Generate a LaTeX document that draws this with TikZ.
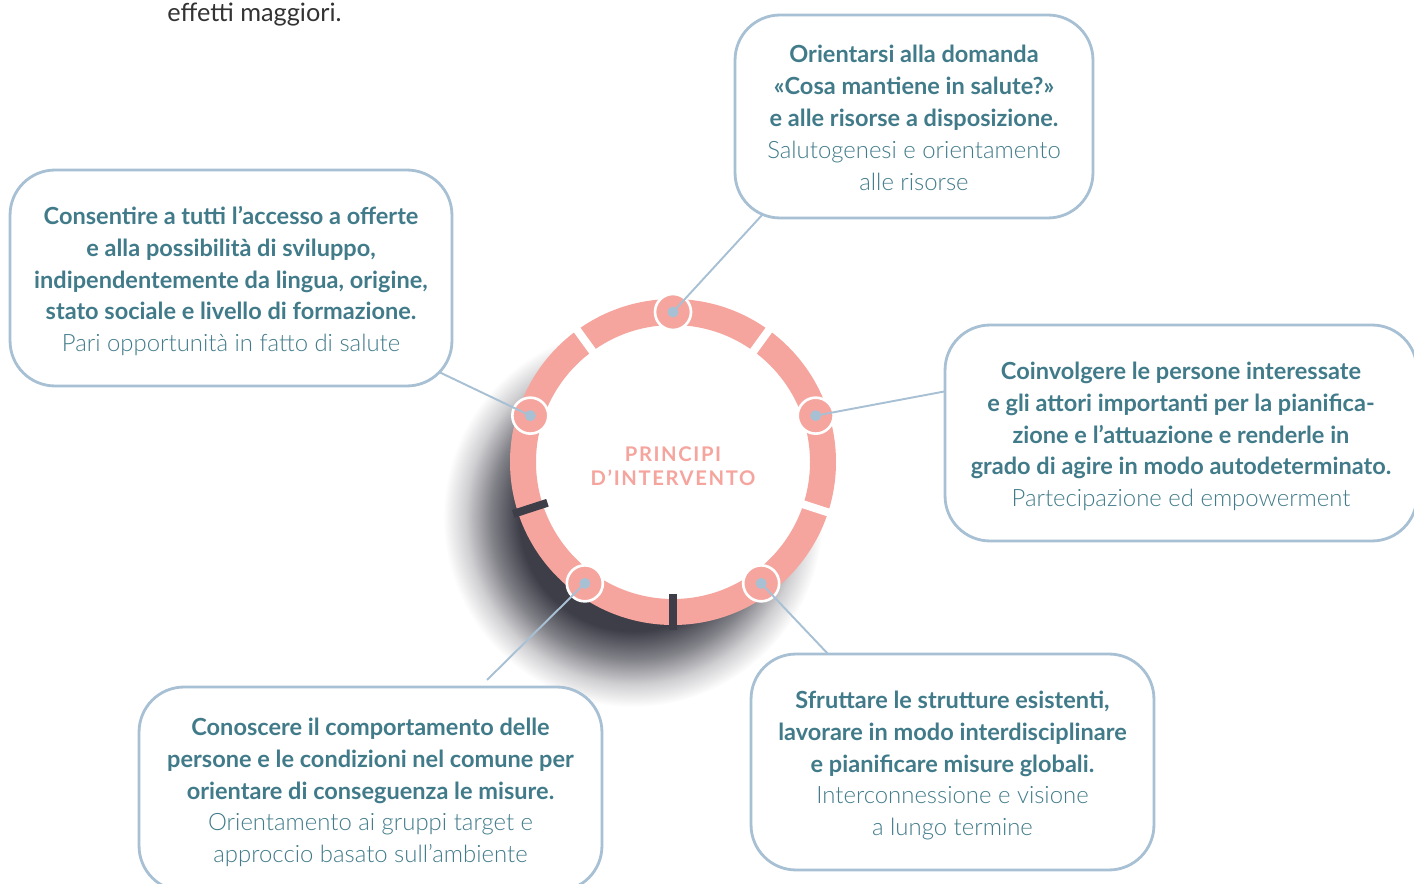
\documentclass[tikz,border=0pt]{standalone}
\usepackage{fontspec}
\setmainfont{Lato}
\newfontfamily\lightfont{Lato Light}
\newfontfamily\capsfont[LetterSpace=8]{Lato}
\usetikzlibrary{positioning}

\definecolor{anello}{HTML}{F5A59E}
\definecolor{testo}{HTML}{417B8A}
\definecolor{bordo}{HTML}{A8C0D4}
\definecolor{ombra}{HTML}{3E3E49}
\definecolor{scuro}{HTML}{333333}

\pgfdeclareradialshading{ombraanello}{\pgfpoint{0bp}{0bp}}{color(0bp)=(ombra); color(15bp)=(ombra); color(18.75bp)=(ombra!65!white); color(22bp)=(ombra!25!white); color(25bp)=(white); color(50bp)=(white)}

\tikzset{
	riquadro/.style={draw=bordo, line width=1.6pt, rounded corners=0.9cm, fill=white, align=center, text=testo, inner sep=0pt, minimum height=4.32cm, text height=87pt, text depth=3pt, font=\fontsize{13.4}{18.14}\selectfont\bfseries},
	punto/.style={circle, fill=anello, draw=white, line width=1.5pt, minimum size=0.72cm, inner sep=0pt},
	collega/.style={draw=bordo, line width=1.1pt},
	taglio/.style={line width=0.16cm, white}
}
\newcommand{\sott}[1]{{\lightfont\mdseries\fontsize{13.6}{18.14}\selectfont #1}}

\begin{document}
\begin{tikzpicture}[x=0.02cm, y=-0.02cm]
	\path[use as bounding box] (0,0) rectangle (1414,884);

	% Testo sopra
	\node[anchor=base west, inner sep=0pt, text=scuro, font=\fontsize{14.4}{17}\selectfont] (effetti) at (167,22) {effetti maggiori.};

	% Anello
	\begin{scope}[shift={(673,462)}, yscale=-1]
	\shade[shading=ombraanello] (-40,-55) circle (190);
	\fill[white] (0,0) circle (140);
	\draw[anello, line width=0.52cm] (0,0) circle (150);

	% Tagli
	\draw[taglio] (54:132) -- (54:168);
	\draw[taglio] (126:132) -- (126:168);
	\draw[taglio] (342:132) -- (342:168);
	\draw[taglio, ombra] (198:132) -- (198:168);
	\draw[taglio, ombra] (270:132) -- (270:168);

	% Punti
	\node[punto] (p1) at (90:150) {};
	\node[punto] (p2) at (18:150) {};
	\node[punto] (p3) at (-54:150) {};
	\node[punto] (p4) at (-126:150) {};
	\node[punto] (p5) at (162:150) {};

	\node[align=center, text=anello, inner sep=0pt, font=\capsfont\bfseries\fontsize{11.5}{13.6}\selectfont] (titolo) at (0,-4) {PRINCIPI\\D’INTERVENTO};
	\end{scope}

	% Collegamenti
	\coordinate (e1) at (763,214);
	\coordinate (e2) at (947,391);
	\coordinate (e3) at (829,655);
	\coordinate (e4) at (487,680);
	\coordinate (e5) at (439,372);
	\draw[collega] (p1.center) -- (e1);
	\draw[collega] (p2.center) -- (e2);
	\draw[collega] (p3.center) -- (e3);
	\draw[collega] (p4.center) -- (e4);
	\draw[collega] (p5.center) -- (e5);
	\foreach \p in {p1,p2,p3,p4,p5}
		\fill[bordo] (\p) circle (5.5);

	% Riquadri
	\node[riquadro, minimum width=7.16cm, minimum height=4.06cm] (salutogenesi) at (914,116.5) {Orientarsi alla domanda\\«Cosa mantiene in salute?»\\e alle risorse a disposizione.\\\sott{Salutogenesi e orientamento}\\\sott{alle risorse}};
	\node[riquadro, minimum width=8.84cm] (equita) at (231,278) {Consentire a tutti l’accesso a offerte\\e alla possibilità di sviluppo,\\indipendentemente da lingua, origine,\\stato sociale e livello di formazione.\\\sott{Pari opportunità in fatto di salute}};
	\node[riquadro, minimum width=9.44cm] (partecipazione) at (1181,433) {Coinvolgere le persone interessate\\e gli attori importanti per la pianifica-\\zione e l’attuazione e renderle in\\grado di agire in modo autodeterminato.\\\sott{Partecipazione ed empowerment}};
	\node[riquadro, minimum width=8.06cm] (rete) at (952.5,762) {Sfruttare le strutture esistenti,\\lavorare in modo interdisciplinare\\e pianificare misure globali.\\\sott{Interconnessione e visione}\\\sott{a lungo termine}};
	\node[riquadro, minimum width=9.26cm, minimum height=4.08cm] (target) at (370.5,789) {Conoscere il comportamento delle\\persone e le condizioni nel comune per\\orientare di conseguenza le misure.\\\sott{Orientamento ai gruppi target e}\\\sott{approccio basato sull’ambiente}};
\end{tikzpicture}
\end{document}
